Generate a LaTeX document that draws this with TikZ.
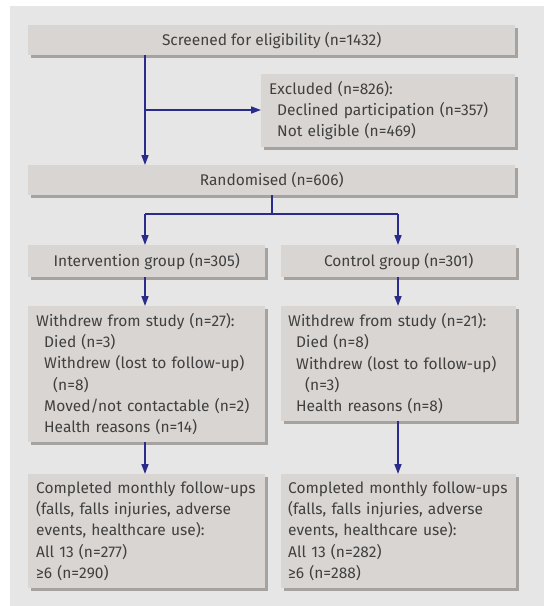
\documentclass[tikz,border=0pt]{standalone}
\usepackage{fontspec}
\setmainfont{Fira Sans}
\usetikzlibrary{arrows.meta,shadows}
\definecolor{panelgrey}{HTML}{E6E6E6}
\definecolor{boxgrey}{HTML}{D9D5D2}
\definecolor{shadegrey}{HTML}{A6A2A0}
\definecolor{linkblue}{HTML}{2B2B8C}
\definecolor{textgrey}{HTML}{404040}
\tikzset{
  flowbox/.style={fill=boxgrey, anchor=north west, inner sep=0pt,
    text=textgrey, font=\fontsize{15.5}{21.3}\selectfont,
    drop shadow={shadow xshift=3pt, shadow yshift=-3pt, fill=shadegrey, opacity=1}},
  listbox/.style={flowbox, text width=221pt, inner xsep=8pt, align=left},
  link/.style={draw=linkblue, line width=1.6pt, -{Triangle[length=10pt,width=7pt]}},
  plain/.style={draw=linkblue, line width=1.6pt}
}
\begin{document}
\begin{tikzpicture}[x=1pt,y=-1pt]
            \useasboundingbox (0,0) rectangle (544,606);
            \fill[panelgrey] (10,6) rectangle (544,606);

            %Nodes
            \node[flowbox, minimum width=487pt, minimum height=30pt] at (28,25) (screen) {Screened for eligibility (n=1432)};
            \node[listbox, minimum height=73pt, text width=238pt] at (261,74) (excl)
              {Excluded (n=826):\\
               \hspace*{8pt}Declined participation (n=357)\\
               \hspace*{8pt}Not eligible (n=469)};
            \node[flowbox, minimum width=487pt, minimum height=30pt] at (28,165) (rand) {Randomised (n=606)};
            \node[flowbox, minimum width=237pt, minimum height=32pt] at (28,245) (intv) {Intervention group (n=305)};
            \node[flowbox, minimum width=235pt, minimum height=32pt] at (281,245) (ctrl) {Control group (n=301)};
            \node[listbox, minimum height=136pt] at (28,306) (wdi)
              {Withdrew from study (n=27):\\
               \hspace*{8pt}Died (n=3)\\
               \hspace*{8pt}Withdrew (lost to follow-up)\\
               \hspace*{17pt}(n=8)\\
               \hspace*{8pt}Moved/not contactable (n=2)\\
               \hspace*{8pt}Health reasons (n=14)};
            \node[listbox, minimum height=115pt, inner xsep=7pt] at (281,306) (wdc)
              {Withdrew from study (n=21):\\
               \hspace*{8pt}Died (n=8)\\
               \hspace*{8pt}Withdrew (lost to follow-up)\\
               \hspace*{17pt}(n=3)\\
               \hspace*{8pt}Health reasons (n=8)};
            \node[listbox, minimum height=114pt] at (28,474) (fui)
              {Completed monthly follow-ups\\
               (falls, falls injuries, adverse\\
               events, healthcare use):\\
               All 13 (n=277)\\
               ≥6 (n=290)};
            \node[listbox, minimum height=114pt, inner xsep=7pt] at (281,474) (fuc)
              {Completed monthly follow-ups\\
               (falls, falls injuries, adverse\\
               events, healthcare use):\\
               All 13 (n=282)\\
               ≥6 (n=288)};
            \coordinate (split) at (145,110);
            \coordinate (fork) at (272,214);
            \coordinate (forkl) at (145,214);
            \coordinate (forkr) at (398,214);

            %Lines
            \draw[link] (screen.south -| split) -- (rand.north -| split);
            \draw[link] (split) -- (excl.west |- split);
            \draw[plain] (rand.south -| fork) -- (fork);
            \draw[plain] (forkl) -- (forkr);
            \draw[link] (forkl) -- (intv.north -| forkl);
            \draw[link] (forkr) -- (ctrl.north -| forkr);
            \draw[link] (intv.south -| forkl) -- (wdi.north -| forkl);
            \draw[link] (ctrl.south -| forkr) -- (wdc.north -| forkr);
            \draw[link] (wdi.south -| forkl) -- (fui.north -| forkl);
            \draw[link] (wdc.south -| forkr) -- (fuc.north -| forkr);
        \end{tikzpicture}
\end{document}
